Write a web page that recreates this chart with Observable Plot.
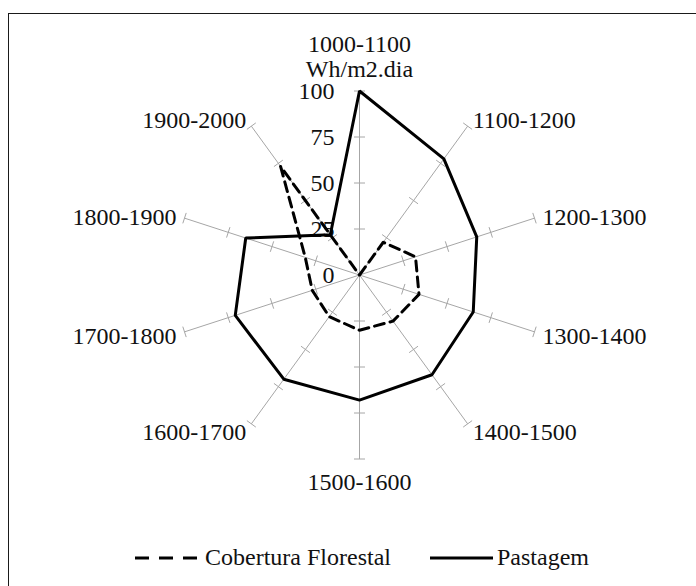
<!DOCTYPE html>
<html><head><meta charset="utf-8">
<script src="https://cdn.jsdelivr.net/npm/d3@7"></script>
<script src="https://cdn.jsdelivr.net/npm/@observablehq/plot@0.6"></script>
<style>
body{margin:0;background:#fff;font-family:'Liberation Serif','DejaVu Serif',serif;overflow:hidden;}
#frame{position:absolute;left:8px;top:13px;width:800px;height:700px;border-left:1.5px solid #1a1a1a;border-top:1.5px solid #1a1a1a;}
#chart{position:absolute;left:0;top:0;}
#legend{position:absolute;left:0;top:538px;}
svg text{font-family:'Liberation Serif','DejaVu Serif',serif !important;}
</style></head><body>
<div id="frame"></div><div id="chart"></div><div id="legend"></div>
<script>
// ---- data ----
const categories = ["1000-1100","1100-1200","1200-1300","1300-1400","1400-1500","1500-1600","1600-1700","1700-1800","1800-1900","1900-2000"];
const unitLabel = "Wh/m2.dia";
const seriesNames = ["Cobertura Florestal","Pastagem"];
const cobertura = [0,22,32,34,31,30,28,27,31,73];
const pastagem  = [100,78,67,65,67,68,70,71,65,27];
const radialTicks = [0,25,50,75,100];

// ---- layout ----
const W = 696, H = 530, cx = 359, cy = 274.5, R = 184;
const k = R / 100;               // px per unit
const n = categories.length;
const ang = i => 2 * Math.PI * i / n;
const FONT = "'Liberation Serif','DejaVu Serif',serif";

const axes = categories.map((c, i) => ({i, c}));
const ticks = [];
axes.forEach(a => radialTicks.filter(t => t > 0).forEach(t => ticks.push({i: a.i, t})));
const h = 5.5 / k;
const tickX1 = d => Math.sin(ang(d.i)) * d.t + Math.cos(ang(d.i)) * h;
const tickY1 = d => Math.cos(ang(d.i)) * d.t - Math.sin(ang(d.i)) * h;
const tickX2 = d => Math.sin(ang(d.i)) * d.t - Math.cos(ang(d.i)) * h;
const tickY2 = d => Math.cos(ang(d.i)) * d.t + Math.sin(ang(d.i)) * h;

// category label positions (offsets in px)
const labels = [];
axes.forEach(a => {
  const s = Math.sin(ang(a.i)), c = Math.cos(ang(a.i));
  if (Math.abs(s) < 1e-6) {
    if (c > 0) {
      labels.push({text: a.c, x: 0, y: 100 + 47 / k, anchor: "middle"});
      labels.push({text: unitLabel, x: 0, y: 100 + 22 / k, anchor: "middle"});
    } else {
      labels.push({text: a.c, x: 0, y: -100 - 23.5 / k, anchor: "middle"});
    }
  } else {
    const ox = s * 8.5, oy = -c * 8.5 + 1.5;
    labels.push({text: a.c, x: s * 100 + ox / k, y: c * 100 - oy / k, anchor: s > 0 ? "start" : "end"});
  }
});

const series = (vals) => vals.map((v, i) => ({i, v}));
const sx = d => Math.sin(ang(d.i)) * d.v;
const sy = d => Math.cos(ang(d.i)) * d.v;

const textOpts = {fontSize: 24, fontFamily: FONT, fill: "#111"};

const plot = Plot.plot({
  width: W, height: H,
  margin: 0,
  style: {background: "transparent", fontFamily: FONT},
  x: {domain: [-cx / k, (W - cx) / k], range: [0, W], axis: null},
  y: {domain: [-(H - cy) / k, cy / k], range: [H, 0], axis: null},
  marks: [
    Plot.link(axes, {x1: 0, y1: 0, x2: d => Math.sin(ang(d.i)) * 100, y2: d => Math.cos(ang(d.i)) * 100, stroke: "#a6a6a6", strokeWidth: 1}),
    Plot.link(ticks, {x1: tickX1, y1: tickY1, x2: tickX2, y2: tickY2, stroke: "#a6a6a6", strokeWidth: 1}),
    Plot.text(radialTicks, {x: -25 / k, y: d => d, text: d => String(d), textAnchor: "end", ...textOpts}),
    Plot.text(labels.filter(d => d.anchor === "start"), {x: "x", y: "y", text: "text", textAnchor: "start", ...textOpts}),
    Plot.text(labels.filter(d => d.anchor === "end"), {x: "x", y: "y", text: "text", textAnchor: "end", ...textOpts}),
    Plot.text(labels.filter(d => d.anchor === "middle"), {x: "x", y: "y", text: "text", textAnchor: "middle", ...textOpts}),
    Plot.line(series(cobertura), {x: sx, y: sy, curve: "linear-closed", stroke: "#000", strokeWidth: 3, strokeDasharray: "10,6"}),
    Plot.line(series(pastagem), {x: sx, y: sy, curve: "linear-closed", stroke: "#000", strokeWidth: 3, strokeLinejoin: "miter"})
  ]
});
document.getElementById("chart").appendChild(plot);

// ---- legend ----
const leg = d3.select("#legend").append("svg").attr("width", W).attr("height", 44);
const items = [
  {name: seriesNames[0], x1: 135, x2: 197, tx: 205, dash: "14,10"},
  {name: seriesNames[1], x1: 430, x2: 493, tx: 497, dash: null}
];
items.forEach(it => {
  leg.append("line").attr("x1", it.x1).attr("x2", it.x2).attr("y1", 20).attr("y2", 20)
    .attr("stroke", "#000").attr("stroke-width", 3).attr("stroke-dasharray", it.dash);
  leg.append("text").attr("x", it.tx).attr("y", 27).attr("font-size", 24)
    .attr("fill", "#111").text(it.name);
});
</script>
</body></html>
